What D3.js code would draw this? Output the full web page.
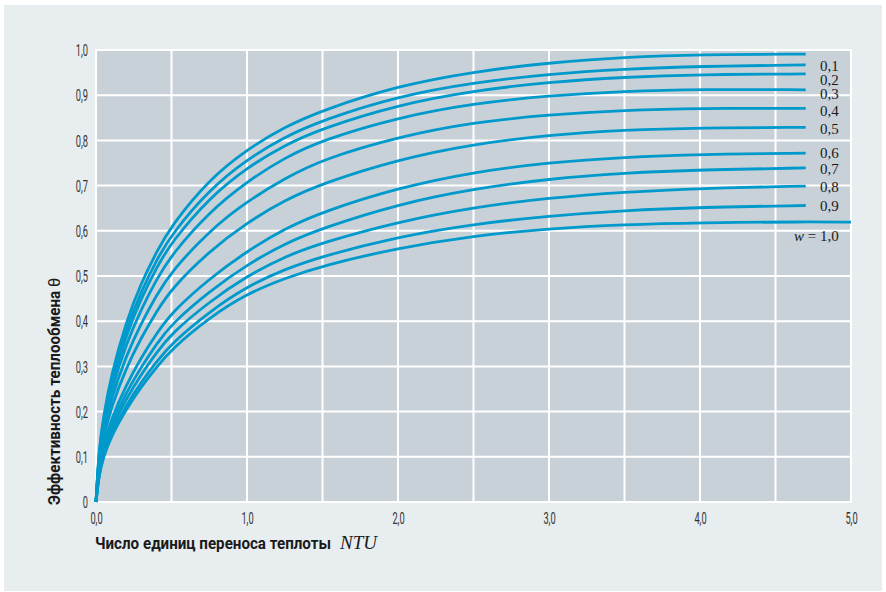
<!DOCTYPE html>
<html>
<head>
<meta charset="utf-8">
<script src="https://cdn.jsdelivr.net/npm/d3@7"></script>
<style>
  html, body { margin: 0; padding: 0; background: #ffffff; }
  svg { display: block; }
</style>
</head>
<body>
<svg id="chart" width="886" height="592"></svg>
<script>
// Heat-exchange effectiveness versus number of transfer units, one curve per w.
const ntu = [0, 0.02, 0.05, 0.1, 0.2, 0.3, 0.4, 0.5, 0.75, 1, 1.25, 1.5, 2, 2.5, 3, 3.5, 4, 4.7];
const ntuLong = [0, 0.02, 0.05, 0.1, 0.2, 0.3, 0.4, 0.5, 0.75, 1, 1.25, 1.5, 2, 2.5, 3, 3.5, 4, 4.7, 5.0];

const effW00 = [0, 0.120, 0.190, 0.280, 0.400, 0.485, 0.553, 0.612, 0.714, 0.780, 0.830, 0.867, 0.921, 0.952, 0.972, 0.984, 0.990, 0.991];
const effW01 = [0, 0.115, 0.183, 0.269, 0.384, 0.466, 0.535, 0.592, 0.691, 0.758, 0.808, 0.845, 0.898, 0.928, 0.947, 0.958, 0.964, 0.967];
const effW02 = [0, 0.111, 0.177, 0.260, 0.370, 0.451, 0.518, 0.575, 0.673, 0.740, 0.790, 0.827, 0.879, 0.910, 0.929, 0.940, 0.946, 0.947];
const effW03 = [0, 0.104, 0.167, 0.246, 0.350, 0.427, 0.492, 0.547, 0.642, 0.709, 0.762, 0.801, 0.851, 0.882, 0.899, 0.909, 0.913, 0.912];
const effW04 = [0, 0.096, 0.155, 0.228, 0.324, 0.396, 0.457, 0.510, 0.600, 0.665, 0.716, 0.758, 0.808, 0.840, 0.857, 0.867, 0.871, 0.871];
const effW05 = [0, 0.088, 0.143, 0.209, 0.297, 0.364, 0.421, 0.472, 0.555, 0.618, 0.668, 0.705, 0.758, 0.792, 0.812, 0.823, 0.828, 0.829];
const effW06 = [0, 0.077, 0.125, 0.183, 0.259, 0.320, 0.372, 0.419, 0.494, 0.555, 0.605, 0.642, 0.695, 0.730, 0.751, 0.763, 0.769, 0.772];
const effW07 = [0, 0.071, 0.117, 0.171, 0.242, 0.299, 0.349, 0.394, 0.466, 0.525, 0.572, 0.606, 0.659, 0.693, 0.715, 0.728, 0.735, 0.739];
const effW08 = [0, 0.067, 0.111, 0.161, 0.228, 0.283, 0.330, 0.373, 0.443, 0.500, 0.543, 0.574, 0.620, 0.652, 0.673, 0.686, 0.694, 0.699];
const effW09 = [0, 0.063, 0.104, 0.151, 0.214, 0.265, 0.310, 0.351, 0.421, 0.477, 0.515, 0.544, 0.587, 0.615, 0.633, 0.645, 0.652, 0.656];
const effW10 = [0, 0.060, 0.100, 0.145, 0.205, 0.255, 0.298, 0.338, 0.408, 0.461, 0.495, 0.523, 0.562, 0.589, 0.605, 0.614, 0.618, 0.620, 0.619];

const seriesList = [
  { x: ntu, y: effW00 },
  { x: ntu, y: effW01 },
  { x: ntu, y: effW02 },
  { x: ntu, y: effW03 },
  { x: ntu, y: effW04 },
  { x: ntu, y: effW05 },
  { x: ntu, y: effW06 },
  { x: ntu, y: effW07 },
  { x: ntu, y: effW08 },
  { x: ntu, y: effW09 },
  { x: ntuLong, y: effW10 }
];

// Curve labels (w values) and the effectiveness level each label sits at.
const curveLabels = ["0,1", "0,2", "0,3", "0,4", "0,5", "0,6", "0,7", "0,8", "0,9", "1,0"];
const labelLevels = [0.965, 0.934, 0.903, 0.865, 0.825, 0.772, 0.737, 0.697, 0.655, 0.588];

const xTicks = [0, 1, 2, 3, 4, 5];
const xTickLabels = ["0,0", "1,0", "2,0", "3,0", "4,0", "5,0"];
const xGrid = [0, 0.5, 1, 1.5, 2, 2.5, 3, 3.5, 4, 4.5, 5];
const yTicks = [0, 0.1, 0.2, 0.3, 0.4, 0.5, 0.6, 0.7, 0.8, 0.9, 1.0];
const yTickLabels = ["0", "0,1", "0,2", "0,3", "0,4", "0,5", "0,6", "0,7", "0,8", "0,9", "1,0"];

const xTitle = "Число единиц переноса теплоты";
const xTitleVar = "NTU";
const yTitle = "Эффективность теплообмена ";
const yTitleVar = "θ";

const svg = d3.select("#chart");
const plot = { left: 96, right: 851, top: 50, bottom: 502 };

const x = d3.scaleLinear().domain([0, 5]).range([plot.left, plot.right]);
const y = d3.scaleLinear().domain([0, 1]).range([plot.bottom, plot.top]);

// Panel background
svg.append("rect")
  .attr("x", 4).attr("y", 5).attr("width", 878).attr("height", 586)
  .attr("fill", "#e8edf0");

// Plot area
svg.append("rect")
  .attr("x", x(0)).attr("y", y(1))
  .attr("width", x(5) - x(0)).attr("height", y(0) - y(1))
  .attr("fill", "#c9d1d8");

// Grid
const grid = svg.append("g").attr("stroke", "#ffffff").attr("stroke-width", 2);
grid.selectAll("line.v").data(xGrid).join("line")
  .attr("class", "v")
  .attr("x1", d => x(d)).attr("x2", d => x(d))
  .attr("y1", y(0) + 1).attr("y2", y(1) - 1);
grid.selectAll("line.h").data(yTicks).join("line")
  .attr("class", "h")
  .attr("x1", x(0) - 1).attr("x2", x(5) + 1)
  .attr("y1", d => y(d)).attr("y2", d => y(d));

// Axes (labels only, no domain or tick marks), narrow face made by horizontal squeeze
const tickFont = "Roboto, 'DejaVu Sans', sans-serif";
const yAxis = svg.append("g")
  .attr("transform", `translate(${plot.left},0)`)
  .call(d3.axisLeft(y).tickValues(yTicks).tickSize(0)
    .tickFormat((d, i) => yTickLabels[i]));
yAxis.select(".domain").remove();
yAxis.selectAll("text")
  .attr("x", null).attr("dy", "0.36em")
  .attr("transform", "translate(-8,0) scale(0.58,1)")
  .attr("font-family", tickFont).attr("font-weight", 400)
  .attr("font-size", 16).attr("fill", "#333333");

const xAxis = svg.append("g")
  .attr("transform", `translate(0,${plot.bottom})`)
  .call(d3.axisBottom(x).tickValues(xTicks).tickSize(0)
    .tickFormat((d, i) => xTickLabels[i]));
xAxis.select(".domain").remove();
xAxis.selectAll("text")
  .attr("y", null).attr("dy", null)
  .attr("transform", "translate(0,22) scale(0.58,1)")
  .attr("font-family", tickFont).attr("font-weight", 400)
  .attr("font-size", 16).attr("fill", "#333333");

// Curves (smooth B-spline through the read-off points)
const line = d3.line()
  .x(d => x(d[0]))
  .y(d => y(d[1]))
  .curve(d3.curveBasis);

svg.append("g")
  .selectAll("path")
  .data(seriesList)
  .join("path")
  .attr("d", s => line(s.x.map((v, i) => [v, s.y[i]])))
  .attr("fill", "none")
  .attr("stroke", "#0099cc")
  .attr("stroke-width", 2.8)
  .attr("stroke-linecap", "butt");

// Curve labels
const labelX = x(4.7) + 33;
const labels = svg.append("g")
  .attr("font-family", "'Liberation Serif', 'Times New Roman', serif")
  .attr("font-size", 15)
  .attr("fill", "#1a1a1a")
  .attr("text-anchor", "end");
curveLabels.forEach((t, i) => {
  const txt = labels.append("text")
    .attr("x", labelX)
    .attr("y", y(labelLevels[i]))
    .attr("dy", "0.33em");
  if (i === curveLabels.length - 1) {
    txt.append("tspan").attr("font-style", "italic").text("w");
    txt.append("tspan").text(" = " + t);
  } else {
    txt.text(t);
  }
});

// Axis titles
const titleFont = "Roboto, 'DejaVu Sans', sans-serif";
svg.append("text")
  .attr("x", 95).attr("y", 549)
  .attr("font-family", titleFont).attr("font-weight", 700)
  .attr("font-size", 17).attr("fill", "#1a1a1a")
  .attr("textLength", 236).attr("lengthAdjust", "spacingAndGlyphs")
  .text(xTitle);
svg.append("text")
  .attr("x", 340).attr("y", 549)
  .attr("font-family", "'Liberation Serif', 'Times New Roman', serif")
  .attr("font-style", "italic").attr("font-size", 19).attr("fill", "#1a1a1a")
  .text(xTitleVar);

const yt = svg.append("text")
  .attr("transform", "translate(60,505) rotate(-90)")
  .attr("font-family", titleFont).attr("font-weight", 700)
  .attr("font-size", 17).attr("fill", "#1a1a1a");
yt.append("tspan").text(yTitle)
  .attr("textLength", 218).attr("lengthAdjust", "spacingAndGlyphs");
yt.append("tspan")
  .attr("font-weight", 400).attr("font-size", 16)
  .text(yTitleVar);
</script>
</body>
</html>
